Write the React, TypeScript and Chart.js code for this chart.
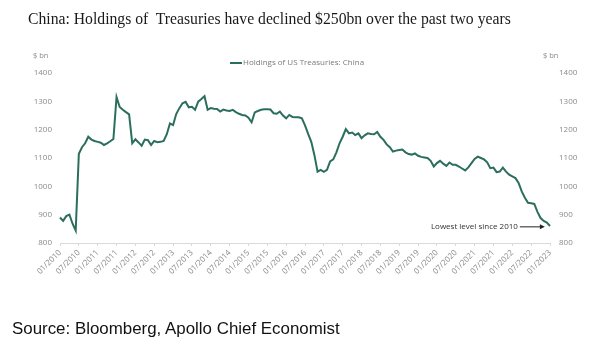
import React, { useEffect, useRef } from "react";
import { Chart, registerables } from "chart.js";

Chart.register(...registerables);

const titleText = "China: Holdings of  Treasuries have declined $250bn over the past two years";
const sourceText = "Source: Bloomberg, Apollo Chief Economist";
const seriesLabel = "Holdings of US Treasuries: China";
const unitLabel = "$ bn";
const annotationText = "Lowest level since 2010";

const startYear = 2010;
const monthCount = 157;
const months: string[] = Array.from({ length: monthCount }, (_, i) => {
  const mm = String((i % 12) + 1).padStart(2, "0");
  return `${mm}/${startYear + Math.floor(i / 12)}`;
});

const holdings: number[] = [
  // 2010
  890, 878, 895, 900, 868, 844, 1115, 1138, 1152, 1175, 1165, 1160,
  // 2011
  1157, 1154, 1146, 1152, 1159, 1167, 1315, 1280, 1270, 1262, 1254, 1152,
  // 2012
  1166, 1155, 1143, 1165, 1163, 1146, 1160, 1156, 1157, 1160, 1184, 1222,
  // 2013
  1216, 1255, 1276, 1293, 1298, 1279, 1281, 1270, 1299, 1308, 1318, 1270,
  // 2014
  1276, 1274, 1273, 1264, 1271, 1268, 1266, 1270, 1262, 1256, 1252, 1250,
  // 2015
  1242, 1226, 1261, 1266, 1270, 1272, 1272, 1271, 1258, 1256, 1264, 1250,
  // 2016
  1240, 1252, 1245, 1244, 1244, 1240, 1215, 1185, 1157, 1110, 1052, 1058,
  // 2017
  1051, 1058, 1088, 1095, 1120, 1152, 1175, 1202, 1187, 1190, 1181, 1187,
  // 2018
  1170, 1180, 1187, 1185, 1184, 1192, 1175, 1164, 1148, 1138, 1123, 1126,
  // 2019
  1128, 1130, 1120, 1114, 1112, 1116, 1108, 1104, 1102, 1100, 1090, 1070,
  // 2020
  1082, 1090, 1080, 1072, 1084, 1076, 1076, 1070, 1063, 1056, 1067, 1082,
  // 2021
  1097, 1105, 1100, 1095, 1085, 1064, 1066, 1050, 1052, 1066, 1052, 1041,
  // 2022
  1035, 1029, 1012, 982, 960, 942, 940, 938, 910, 888, 878, 872,
  // 2023
  860,
];

const yMin = 800;
const yMax = 1400;
const yStep = 100;
const tickEvery = 6;
const annotationIndex = 155;
const annotationValue = 857;

const lineColor = "#2b6e5d";
const tickColor = "#8a8a8a";
const tickFont = { family: "'Open Sans', sans-serif", size: 8 };

const extrasPlugin = {
  id: "extras",
  afterDraw(chart: any) {
    const { ctx, scales } = chart;
    ctx.save();
    // unit labels
    ctx.font = "7.5px 'Open Sans', sans-serif";
    ctx.fillStyle = tickColor;
    ctx.textBaseline = "middle";
    ctx.textAlign = "left";
    ctx.fillText(unitLabel, 33, 56);
    ctx.fillText(unitLabel, 543, 56);
    // legend
    ctx.strokeStyle = lineColor;
    ctx.lineWidth = 2;
    ctx.beginPath();
    ctx.moveTo(230, 63);
    ctx.lineTo(242, 63);
    ctx.stroke();
    ctx.font = "8px 'Open Sans', sans-serif";
    ctx.fillStyle = "#7a7a7a";
    ctx.fillText(seriesLabel, 243, 63);
    // annotation
    const tipX = scales.x.getPixelForValue(annotationIndex) - 2;
    const ay = scales.y.getPixelForValue(annotationValue);
    const startX = tipX - 25;
    ctx.strokeStyle = "#222";
    ctx.lineWidth = 1;
    ctx.beginPath();
    ctx.moveTo(startX, ay);
    ctx.lineTo(tipX - 4, ay);
    ctx.stroke();
    ctx.fillStyle = "#222";
    ctx.beginPath();
    ctx.moveTo(tipX, ay);
    ctx.lineTo(tipX - 5, ay - 2.5);
    ctx.lineTo(tipX - 5, ay + 2.5);
    ctx.closePath();
    ctx.fill();
    ctx.font = "8px 'Open Sans', sans-serif";
    ctx.fillStyle = "#333";
    ctx.textAlign = "right";
    ctx.fillText(annotationText, startX - 2, ay);
    ctx.restore();
  },
};

const plainNumber = (v: any) => String(v);

export default function App() {
  const ref = useRef<HTMLCanvasElement>(null);
  useEffect(() => {
    if (!ref.current) return;
    const chart = new Chart(ref.current, {
      type: "line",
      data: {
        labels: months,
        datasets: [
          {
            label: seriesLabel,
            data: holdings,
            borderColor: lineColor,
            backgroundColor: lineColor,
            borderWidth: 2,
            pointRadius: 0,
            tension: 0,
            yAxisID: "y",
          },
        ],
      },
      options: {
        responsive: false,
        animation: false,
        layout: { padding: { top: 73, left: 0, right: 0, bottom: 0 } },
        plugins: {
          legend: { display: false },
          tooltip: { enabled: false },
        },
        scales: {
          x: {
            type: "category",
            offset: false,
            grid: {
              display: true,
              drawOnChartArea: false,
              drawTicks: true,
              tickLength: 3,
              color: "#d9d9d9",
            },
            border: { display: true, color: "#d9d9d9" },
            ticks: {
              autoSkip: false,
              minRotation: 45,
              maxRotation: 45,
              padding: 2,
              color: tickColor,
              font: tickFont,
              callback: (_v: any, i: number) => (i % tickEvery === 0 ? months[i] : null),
            },
            afterFit: (s: any) => {
              s.height = 117;
            },
          },
          y: {
            position: "left",
            min: yMin,
            max: yMax,
            grid: { display: false, drawTicks: false, tickLength: 0 },
            border: { display: false },
            ticks: { stepSize: yStep, padding: 8, color: tickColor, font: tickFont, callback: plainNumber },
            afterFit: (s: any) => {
              s.width = 60;
            },
          },
          y1: {
            position: "right",
            min: yMin,
            max: yMax,
            grid: { display: false, drawTicks: false, tickLength: 0 },
            border: { display: false },
            ticks: { stepSize: yStep, padding: 9, color: tickColor, font: tickFont, callback: plainNumber },
            afterFit: (s: any) => {
              s.width = 50;
            },
          },
        },
      },
      plugins: [extrasPlugin],
    });
    return () => chart.destroy();
  }, []);

  return (
    <div style={{ position: "absolute", left: 0, top: 0, width: 600, height: 360, background: "#fff", overflow: "hidden" }}>
      <canvas ref={ref} width={600} height={360} style={{ position: "absolute", left: 0, top: 0, width: 600, height: 360 }} />
      <div
        style={{
          position: "absolute",
          left: 28,
          top: 10,
          fontFamily: "'Liberation Serif', serif",
          fontSize: 15.7,
          lineHeight: "18px",
          color: "#1a1a1a",
          whiteSpace: "pre",
        }}
      >
        {titleText}
      </div>
      <div
        style={{
          position: "absolute",
          left: 12,
          top: 320,
          fontFamily: "'Liberation Sans', Arial, sans-serif",
          fontSize: 16.9,
          lineHeight: "18px",
          color: "#111",
          whiteSpace: "pre",
        }}
      >
        {sourceText}
      </div>
    </div>
  );
}
